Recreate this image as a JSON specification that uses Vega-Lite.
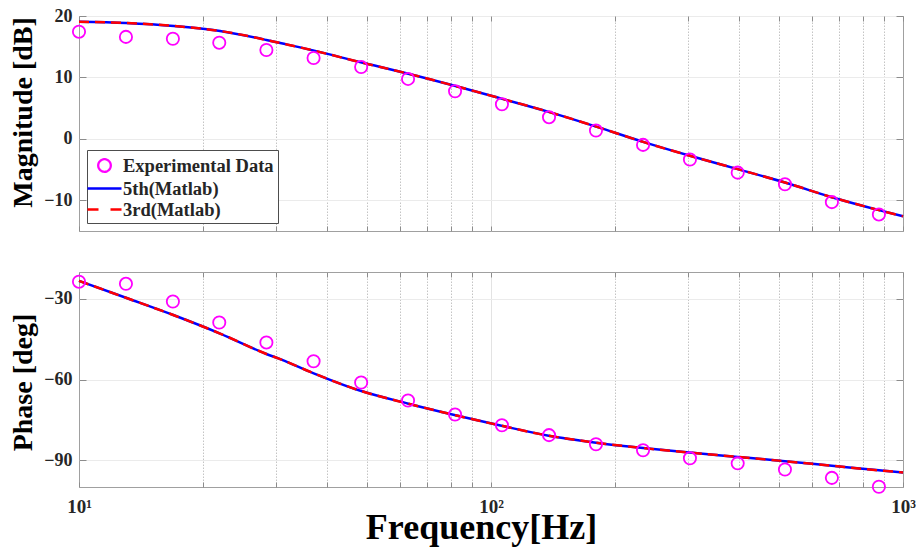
{
  "$schema": "https://vega.github.io/schema/vega-lite/v6.json",
  "background": "white",
  "padding": {"left": 8, "top": 6, "right": 5, "bottom": 5},
  "datasets": {
    "exp": [
      {"f": 10, "mag": 17.45, "phase": -23.6, "series": "Experimental Data"},
      {"f": 13, "mag": 16.6, "phase": -24.4, "series": "Experimental Data"},
      {"f": 16.9, "mag": 16.3, "phase": -31.0, "series": "Experimental Data"},
      {"f": 21.9, "mag": 15.66, "phase": -38.8, "series": "Experimental Data"},
      {"f": 28.5, "mag": 14.47, "phase": -46.2, "series": "Experimental Data"},
      {"f": 37.1, "mag": 13.17, "phase": -53.2, "series": "Experimental Data"},
      {"f": 48.4, "mag": 11.7, "phase": -61.1, "series": "Experimental Data"},
      {"f": 62.9, "mag": 9.76, "phase": -67.8, "series": "Experimental Data"},
      {"f": 81.8, "mag": 7.75, "phase": -73.0, "series": "Experimental Data"},
      {"f": 106.3, "mag": 5.64, "phase": -77.0, "series": "Experimental Data"},
      {"f": 138.3, "mag": 3.53, "phase": -80.7, "series": "Experimental Data"},
      {"f": 179.8, "mag": 1.35, "phase": -84.1, "series": "Experimental Data"},
      {"f": 233.9, "mag": -0.98, "phase": -86.3, "series": "Experimental Data"},
      {"f": 304, "mag": -3.36, "phase": -89.3, "series": "Experimental Data"},
      {"f": 397, "mag": -5.5, "phase": -91.2, "series": "Experimental Data"},
      {"f": 517, "mag": -7.4, "phase": -93.5, "series": "Experimental Data"},
      {"f": 672, "mag": -10.3, "phase": -96.6, "series": "Experimental Data"},
      {"f": 874, "mag": -12.3, "phase": -99.9, "series": "Experimental Data"}
    ],
    "fit": [
      {"f": 10, "mag": 19.07, "phase": -23.3, "series": "5th(Matlab)"},
      {"f": 13, "mag": 18.86, "phase": -29.6, "series": "5th(Matlab)"},
      {"f": 17, "mag": 18.37, "phase": -36.1, "series": "5th(Matlab)"},
      {"f": 22, "mag": 17.56, "phase": -42.9, "series": "5th(Matlab)"},
      {"f": 28.5, "mag": 16.1, "phase": -50.5, "series": "5th(Matlab)"},
      {"f": 31, "mag": 15.56, "phase": -52.6, "series": "5th(Matlab)"},
      {"f": 37, "mag": 14.4, "phase": -57.6, "series": "5th(Matlab)"},
      {"f": 48, "mag": 12.5, "phase": -64.1, "series": "5th(Matlab)"},
      {"f": 63, "mag": 10.6, "phase": -69.0, "series": "5th(Matlab)"},
      {"f": 82, "mag": 8.6, "phase": -73.3, "series": "5th(Matlab)"},
      {"f": 106, "mag": 6.55, "phase": -77.2, "series": "5th(Matlab)"},
      {"f": 138, "mag": 4.4, "phase": -80.9, "series": "5th(Matlab)"},
      {"f": 180, "mag": 2.0, "phase": -83.5, "series": "5th(Matlab)"},
      {"f": 234, "mag": -0.5, "phase": -85.5, "series": "5th(Matlab)"},
      {"f": 304, "mag": -2.76, "phase": -87.2, "series": "5th(Matlab)"},
      {"f": 397, "mag": -4.93, "phase": -88.8, "series": "5th(Matlab)"},
      {"f": 517, "mag": -7.1, "phase": -90.4, "series": "5th(Matlab)"},
      {"f": 672, "mag": -9.5, "phase": -92.1, "series": "5th(Matlab)"},
      {"f": 874, "mag": -11.6, "phase": -93.8, "series": "5th(Matlab)"},
      {"f": 1000, "mag": -12.6, "phase": -94.6, "series": "5th(Matlab)"},
      {"f": 10, "mag": 19.07, "phase": -23.3, "series": "3rd(Matlab)"},
      {"f": 13, "mag": 18.86, "phase": -29.6, "series": "3rd(Matlab)"},
      {"f": 17, "mag": 18.37, "phase": -36.1, "series": "3rd(Matlab)"},
      {"f": 22, "mag": 17.56, "phase": -42.9, "series": "3rd(Matlab)"},
      {"f": 28.5, "mag": 16.1, "phase": -50.5, "series": "3rd(Matlab)"},
      {"f": 31, "mag": 15.56, "phase": -52.6, "series": "3rd(Matlab)"},
      {"f": 37, "mag": 14.4, "phase": -57.6, "series": "3rd(Matlab)"},
      {"f": 48, "mag": 12.5, "phase": -64.1, "series": "3rd(Matlab)"},
      {"f": 63, "mag": 10.6, "phase": -69.0, "series": "3rd(Matlab)"},
      {"f": 82, "mag": 8.6, "phase": -73.3, "series": "3rd(Matlab)"},
      {"f": 106, "mag": 6.55, "phase": -77.2, "series": "3rd(Matlab)"},
      {"f": 138, "mag": 4.4, "phase": -80.9, "series": "3rd(Matlab)"},
      {"f": 180, "mag": 2.0, "phase": -83.5, "series": "3rd(Matlab)"},
      {"f": 234, "mag": -0.5, "phase": -85.5, "series": "3rd(Matlab)"},
      {"f": 304, "mag": -2.76, "phase": -87.2, "series": "3rd(Matlab)"},
      {"f": 397, "mag": -4.93, "phase": -88.8, "series": "3rd(Matlab)"},
      {"f": 517, "mag": -7.1, "phase": -90.4, "series": "3rd(Matlab)"},
      {"f": 672, "mag": -9.5, "phase": -92.1, "series": "3rd(Matlab)"},
      {"f": 874, "mag": -11.6, "phase": -93.8, "series": "3rd(Matlab)"},
      {"f": 1000, "mag": -12.6, "phase": -94.6, "series": "3rd(Matlab)"}
    ]
  },
  "spacing": 39,
  "resolve": {"scale": {"color": "independent"}, "legend": {"color": "independent"}},
  "vconcat": [
    {
      "width": 824,
      "height": 215,
      "layer": [
        {
          "data": {"name": "fit"},
          "transform": [{"filter": "datum.series === '5th(Matlab)'"}],
          "mark": {"type": "line", "strokeWidth": 2.5, "interpolate": "monotone"},
          "encoding": {
            "x": {
              "field": "f",
              "type": "quantitative",
              "scale": {"type": "log", "domain": [10, 1000], "nice": false},
              "axis": {
                "values": [10, 20, 30, 40, 50, 60, 70, 80, 90, 100, 200, 300, 400, 500, 600, 700, 800, 900, 1000],
                "labels": false,
                "title": null,
                "tickSize": -5,
                "grid": true,
                "gridColor": {"condition": {"test": "datum.value === 100", "value": "#e3e3e3"}, "value": "#c4c4c4"},
                "gridDash": {"condition": {"test": "datum.value === 100", "value": []}, "value": [1.5, 1.5]},
                "gridOpacity": {"condition": {"test": "datum.value === 10 || datum.value === 1000", "value": 0}, "value": 1}
              }
            },
            "y": {
              "field": "mag",
              "type": "quantitative",
              "scale": {"domain": [-15, 20], "nice": false, "zero": false},
              "axis": {
                "values": [-10, 0, 10, 20],
                "title": "Magnitude [dB]",
                "titleFontSize": 28,
                "titleX": -48,
                "titleY": 96,
                "titleBaseline": "alphabetic",
                "tickSize": -7,
                "labelPadding": 14,
                "grid": true,
                "gridColor": "#ebebeb"
              }
            },
            "color": {
              "field": "series",
              "type": "nominal",
              "scale": {
                "domain": ["Experimental Data", "5th(Matlab)", "3rd(Matlab)"],
                "range": ["#ff00ff", "#0000ff", "#ff0000"]
              },
              "legend": {
                "orient": "bottom-left",
                "offset": 8,
                "title": null,
                "fillColor": "white",
                "strokeColor": "#4d4d4d",
                "padding": 4,
                "labelFont": "Liberation Serif",
                "labelFontSize": 18.5,
                "labelFontWeight": "bold",
                "labelColor": "#262626",
                "labelOffset": 7,
                "symbolOffset": 2,
                "rowPadding": 0,
                "symbolType": "stroke",
                "symbolSize": 400,
                "symbolStrokeWidth": 2.3,
                "encode": {
                  "symbols": {
                    "update": {
                      "shape": {"signal": "datum.value === 'Experimental Data' ? 'M0.63,0A0.63,0.63,0,1,1,-0.63,0A0.63,0.63,0,1,1,0.63,0Z' : 'M-1.7,0H1.7'"},
                      "strokeDash": {"signal": "datum.value === '3rd(Matlab)' ? [11, 12] : [1, 0]"},
                      "fill": {"value": "transparent"},
                      "opacity": {"value": 1}
                    }
                  }
                }
              }
            }
          }
        },
        {
          "data": {"name": "fit"},
          "transform": [{"filter": "datum.series === '3rd(Matlab)'"}],
          "mark": {"type": "line", "strokeWidth": 2.5, "strokeDash": [10, 6], "interpolate": "monotone"},
          "encoding": {
            "x": {"field": "f", "type": "quantitative", "axis": null},
            "y": {"field": "mag", "type": "quantitative", "axis": null},
            "color": {"field": "series", "type": "nominal"}
          }
        },
        {
          "data": {"name": "exp"},
          "mark": {"type": "point", "shape": "circle", "filled": false, "size": 150, "strokeWidth": 1.8, "opacity": 1},
          "encoding": {
            "x": {
              "field": "f",
              "type": "quantitative",
              "axis": {
                "orient": "top",
                "values": [10, 20, 30, 40, 50, 60, 70, 80, 90, 100, 200, 300, 400, 500, 600, 700, 800, 900, 1000],
                "labels": false,
                "title": null,
                "grid": false,
                "tickSize": -5
              }
            },
            "y": {
              "field": "mag",
              "type": "quantitative",
              "axis": {
                "orient": "right",
                "values": [-10, 0, 10, 20],
                "labels": false,
                "title": null,
                "grid": false,
                "tickSize": -7
              }
            },
            "color": {"field": "series", "type": "nominal"}
          }
        }
      ],
      "resolve": {"axis": {"x": "independent", "y": "independent"}}
    },
    {
      "width": 824,
      "height": 215,
      "layer": [
        {
          "data": {"name": "fit"},
          "transform": [{"filter": "datum.series === '5th(Matlab)'"}],
          "mark": {"type": "line", "strokeWidth": 2.5, "color": "#0000ff", "interpolate": "monotone"},
          "encoding": {
            "x": {
              "field": "f",
              "type": "quantitative",
              "scale": {"type": "log", "domain": [10, 1000], "nice": false},
              "axis": {
                "values": [10, 20, 30, 40, 50, 60, 70, 80, 90, 100, 200, 300, 400, 500, 600, 700, 800, 900, 1000],
                "labelExpr": "datum.value === 10 ? '10¹' : datum.value === 100 ? '10²' : datum.value === 1000 ? '10³' : ''",
                "labelFontSize": 19,
                "labelPadding": 15,
                "labelFlush": false,
                "labelOverlap": false,
                "title": "Frequency[Hz]",
                "titleFontSize": 36,
                "titleX": 402,
                "titleY": 51,
                "titleBaseline": "alphabetic",
                "tickSize": -5,
                "grid": true,
                "gridColor": {"condition": {"test": "datum.value === 100", "value": "#e3e3e3"}, "value": "#c4c4c4"},
                "gridDash": {"condition": {"test": "datum.value === 100", "value": []}, "value": [1.5, 1.5]},
                "gridOpacity": {"condition": {"test": "datum.value === 10 || datum.value === 1000", "value": 0}, "value": 1}
              }
            },
            "y": {
              "field": "phase",
              "type": "quantitative",
              "scale": {"domain": [-100, -20], "nice": false, "zero": false},
              "axis": {
                "values": [-90, -60, -30],
                "title": "Phase [deg]",
                "titleFontSize": 28,
                "titleX": -48,
                "titleY": 110,
                "titleBaseline": "alphabetic",
                "tickSize": -7,
                "labelPadding": 14,
                "grid": true,
                "gridColor": "#ebebeb"
              }
            }
          }
        },
        {
          "data": {"name": "fit"},
          "transform": [{"filter": "datum.series === '3rd(Matlab)'"}],
          "mark": {"type": "line", "strokeWidth": 2.5, "strokeDash": [10, 6], "color": "#ff0000", "interpolate": "monotone"},
          "encoding": {
            "x": {"field": "f", "type": "quantitative", "axis": null},
            "y": {"field": "phase", "type": "quantitative", "axis": null}
          }
        },
        {
          "data": {"name": "exp"},
          "mark": {"type": "point", "shape": "circle", "filled": false, "size": 150, "strokeWidth": 1.8, "opacity": 1, "color": "#ff00ff"},
          "encoding": {
            "x": {
              "field": "f",
              "type": "quantitative",
              "axis": {
                "orient": "top",
                "values": [10, 20, 30, 40, 50, 60, 70, 80, 90, 100, 200, 300, 400, 500, 600, 700, 800, 900, 1000],
                "labels": false,
                "title": null,
                "grid": false,
                "tickSize": -5
              }
            },
            "y": {
              "field": "phase",
              "type": "quantitative",
              "axis": {
                "orient": "right",
                "values": [-90, -60, -30],
                "labels": false,
                "title": null,
                "grid": false,
                "tickSize": -7
              }
            }
          }
        }
      ],
      "resolve": {"axis": {"x": "independent", "y": "independent"}}
    }
  ],
  "config": {
    "view": {"stroke": "#a0a0a0", "strokeWidth": 1},
    "axis": {
      "domain": false,
      "tickColor": "#8c8c8c",
      "labelFont": "Liberation Serif",
      "labelFontSize": 18,
      "labelFontWeight": "bold",
      "labelColor": "#262626",
      "titleFont": "Liberation Serif",
      "titleFontWeight": "bold",
      "titleColor": "#000000"
    }
  }
}
